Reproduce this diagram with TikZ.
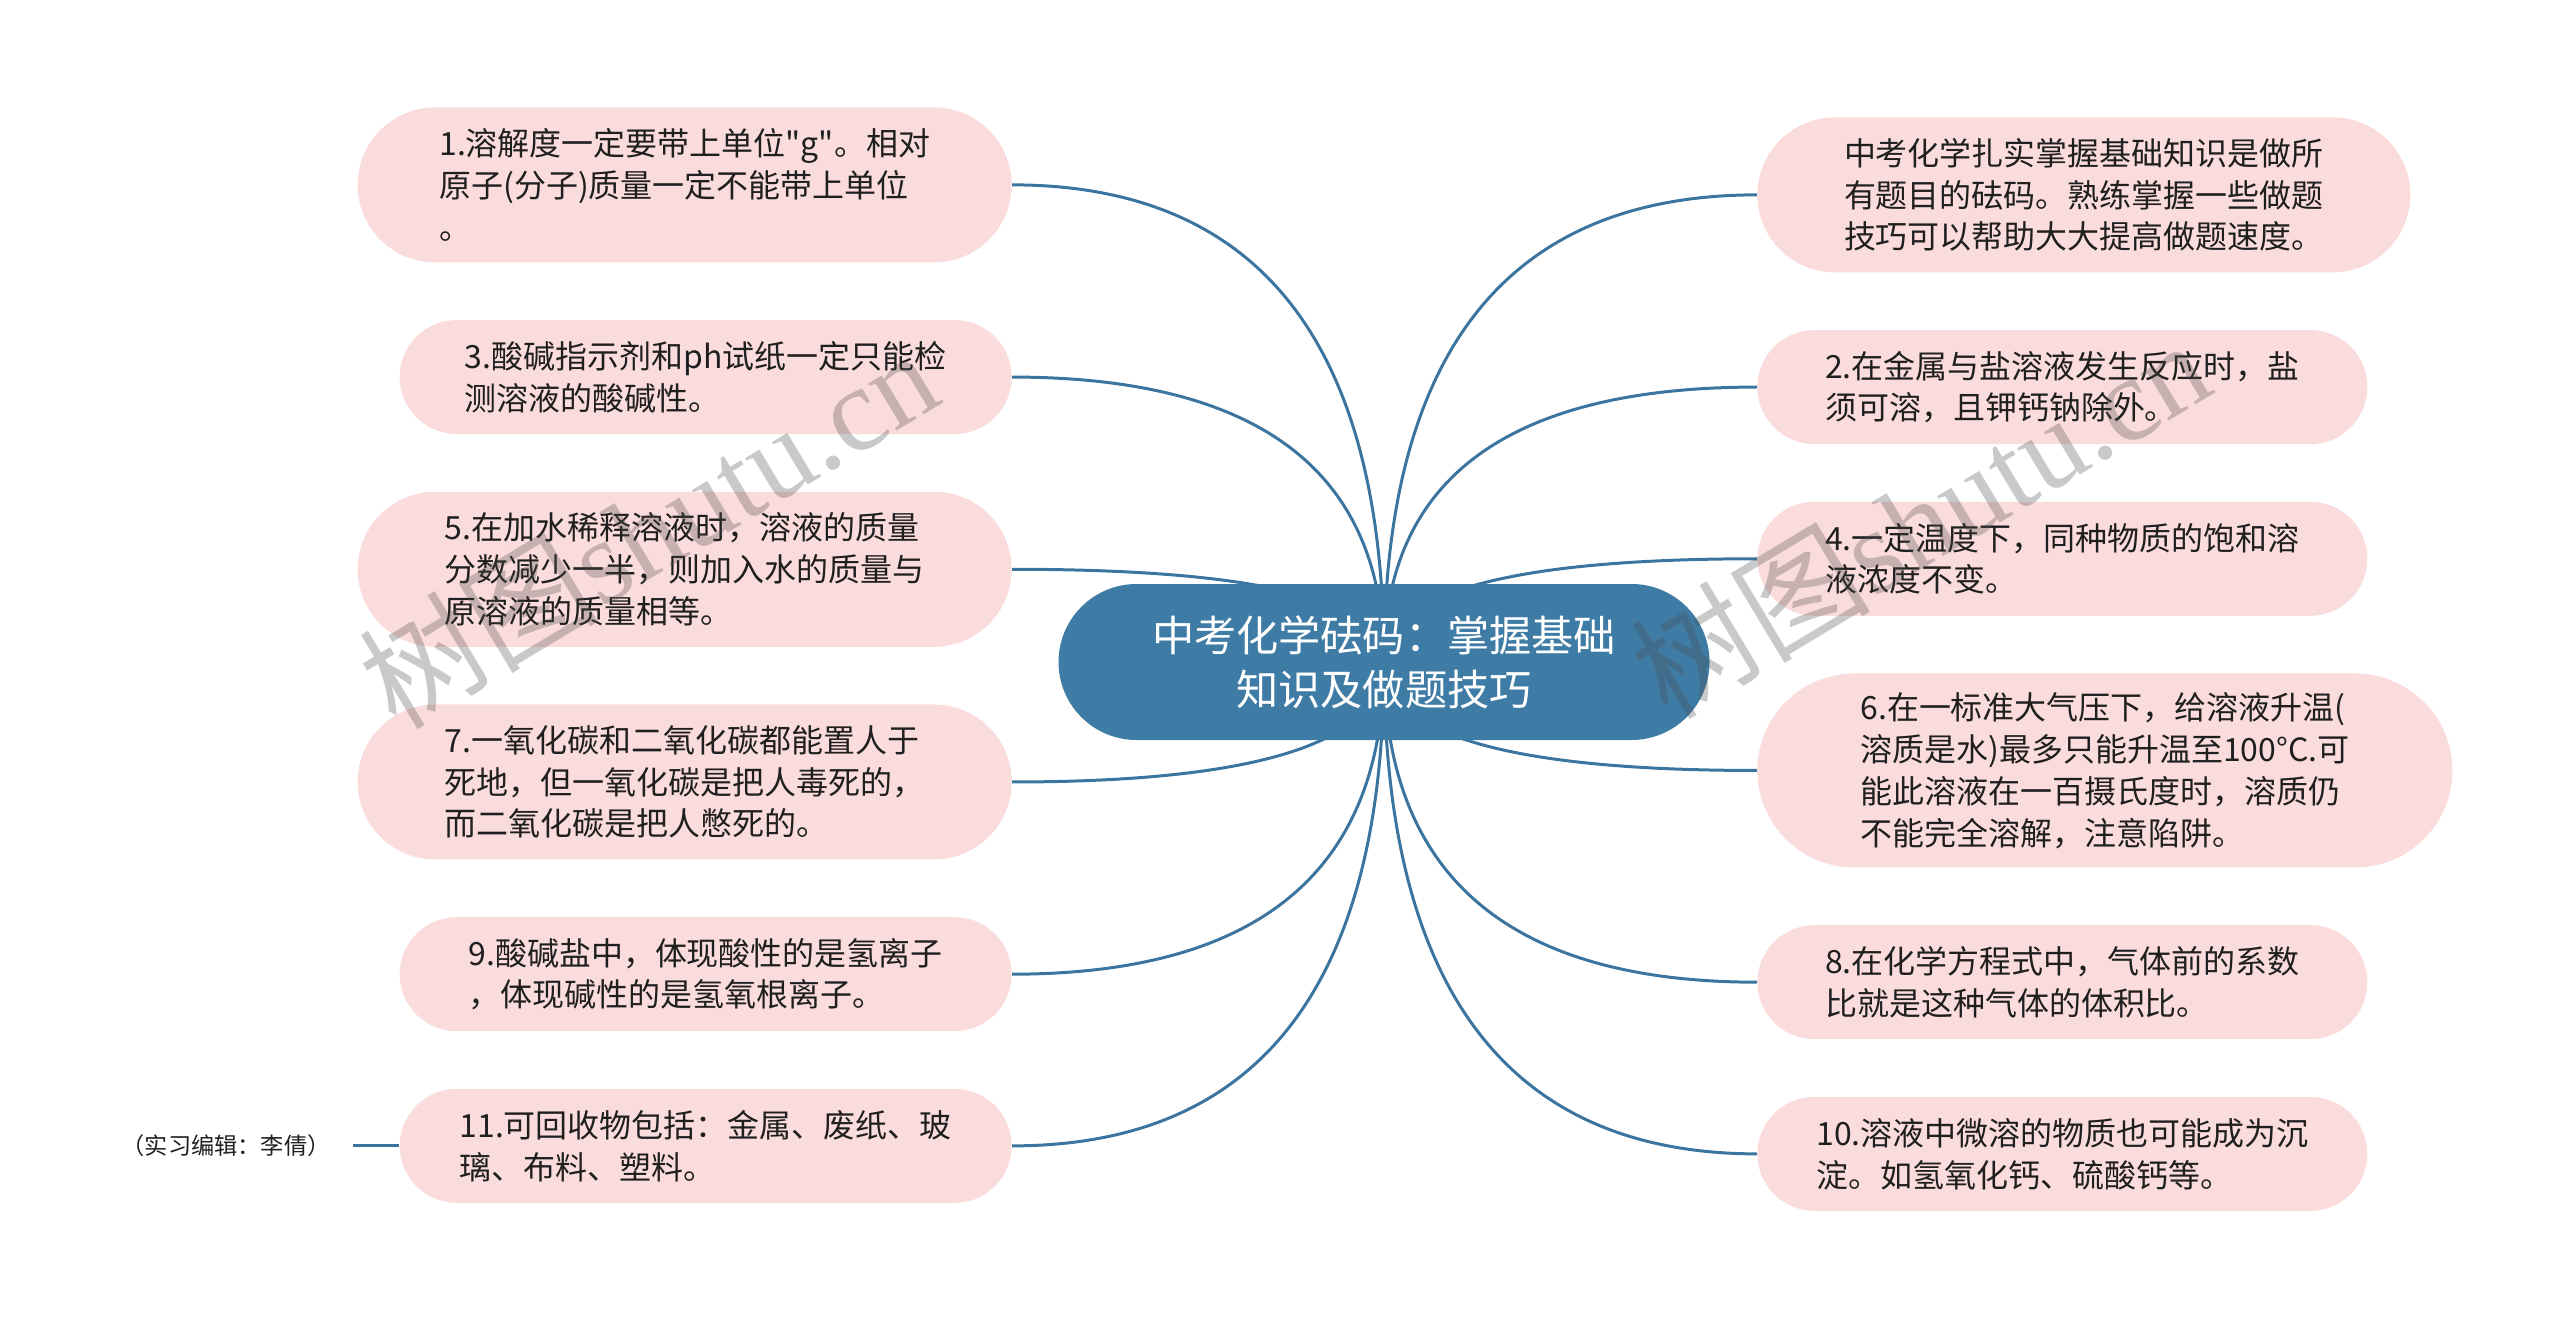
\documentclass[tikz,border=0pt]{standalone}
\usepackage{fontspec}
\usepackage{tikz}
\usetikzlibrary{positioning,calc,backgrounds}
\newfontfamily\cjk{Noto Sans CJK SC}
\newfontfamily\wmfont{Liberation Serif}
\definecolor{RootBlue}{HTML}{3F7CA5}
\definecolor{LineBlue}{HTML}{3C74A0}
\definecolor{LeafPink}{HTML}{FBDCDC}
\definecolor{LeafText}{HTML}{1F1F1F}

\begin{document}
\begin{tikzpicture}[
node distance=1.14cm and 0.92cm,
root/.style={fill=RootBlue,text=white,rounded corners=1.56cm,minimum width=13.02cm,minimum height=3.12cm,align=center,font=\cjk\fontsize{24}{30.6}\selectfont},
leaf/.style={fill=LeafPink,text=LeafText,align=left,inner sep=0pt,font=\cjk\fontsize{18.2}{23.8}\selectfont},
leaftwo/.style={leaf,minimum height=2.28cm,rounded corners=1.14cm},
leafthree/.style={leaf,minimum height=3.1cm,rounded corners=1.55cm},
leaffour/.style={leaf,minimum height=3.88cm,rounded corners=1.94cm},
branch/.style={draw=LineBlue,line width=1.7pt},
wmtext/.style={text=black!70,opacity=0.3,rotate=31,font=\fontsize{68}{68}\selectfont}
]
\useasboundingbox (0,0) rectangle (51.2,-26.34);
\node[root] (root) at (27.68,-13.24) {中考化学砝码：掌握基础\\知识及做题技巧};
% left side
\node[leafthree,minimum width=13.08cm,anchor=north east] (n1) at (20.24,-2.14) {1.溶解度一定要带上单位"g"。相对\\原子(分子)质量一定不能带上单位\\。};
\node[leaftwo,minimum width=12.24cm,below=of n1.south east,anchor=north east] (n3) {3.酸碱指示剂和ph试纸一定只能检\\测溶液的酸碱性。};
\node[leafthree,minimum width=13.08cm,below=of n3.south east,anchor=north east] (n5) {5.在加水稀释溶液时，溶液的质量\\分数减少一半，则加入水的质量与\\原溶液的质量相等。};
\node[leafthree,minimum width=13.08cm,below=of n5.south east,anchor=north east] (n7) {7.一氧化碳和二氧化碳都能置人于\\死地，但一氧化碳是把人毒死的，\\而二氧化碳是把人憋死的。};
\node[leaftwo,minimum width=12.24cm,below=of n7.south east,anchor=north east] (n9) {9.酸碱盐中，体现酸性的是氢离子\\，体现碱性的是氢氧根离子。};
\node[leaftwo,minimum width=12.24cm,below=of n9.south east,anchor=north east] (n11) {11.可回收物包括：金属、废纸、玻\\璃、布料、塑料。};
\node[font=\cjk\fontsize{13.2}{16}\selectfont,text=LeafText,inner xsep=0.45cm,left=of n11] (note) {（实习编辑：李倩）};
% right side
\node[leafthree,minimum width=13.06cm,anchor=north west] (r0) at (35.14,-2.34) {中考化学扎实掌握基础知识是做所\\有题目的砝码。熟练掌握一些做题\\技巧可以帮助大大提高做题速度。};
\node[leaftwo,minimum width=12.2cm,below=of r0.south west,anchor=north west] (r2) {2.在金属与盐溶液发生反应时，盐\\须可溶，且钾钙钠除外。};
\node[leaftwo,minimum width=12.2cm,below=of r2.south west,anchor=north west] (r4) {4.一定温度下，同种物质的饱和溶\\液浓度不变。};
\node[leaffour,minimum width=13.9cm,below=of r4.south west,anchor=north west] (r6) {6.在一标准大气压下，给溶液升温(\\溶质是水)最多只能升温至100°C.可\\能此溶液在一百摄氏度时，溶质仍\\不能完全溶解，注意陷阱。};
\node[leaftwo,minimum width=12.2cm,below=of r6.south west,anchor=north west] (r8) {8.在化学方程式中，气体前的系数\\比就是这种气体的体积比。};
\node[leaftwo,minimum width=12.2cm,below=of r8.south west,anchor=north west] (r10) {10.溶液中微溶的物质也可能成为沉\\淀。如氢氧化钙、硫酸钙等。};
% branches
\begin{scope}[on background layer]
\foreach \leaf in {n1,n3,n5,n7,n9,n11}
  \draw[branch] (root.center) .. controls ($(root.center)!2/3!(root.center|-\leaf.east)$) and ($(\leaf.east)!2/3!(root.center|-\leaf.east)$) .. (\leaf.east);
\foreach \leaf in {r0,r2,r4,r6,r8,r10}
  \draw[branch] (root.center) .. controls ($(root.center)!2/3!(root.center|-\leaf.west)$) and ($(\leaf.west)!2/3!(root.center|-\leaf.west)$) .. (\leaf.west);
\end{scope}
\draw[branch] (note.east) -- (n11.west);
% watermark
\node[wmtext] (wmleft) at (12.96,-10.56) {{\cjk 树图}{\wmfont shutu.cn}};
\node[wmtext] (wmright) at (38.4,-10.36) {{\cjk 树图}{\wmfont shutu.cn}};
\end{tikzpicture}
\end{document}
